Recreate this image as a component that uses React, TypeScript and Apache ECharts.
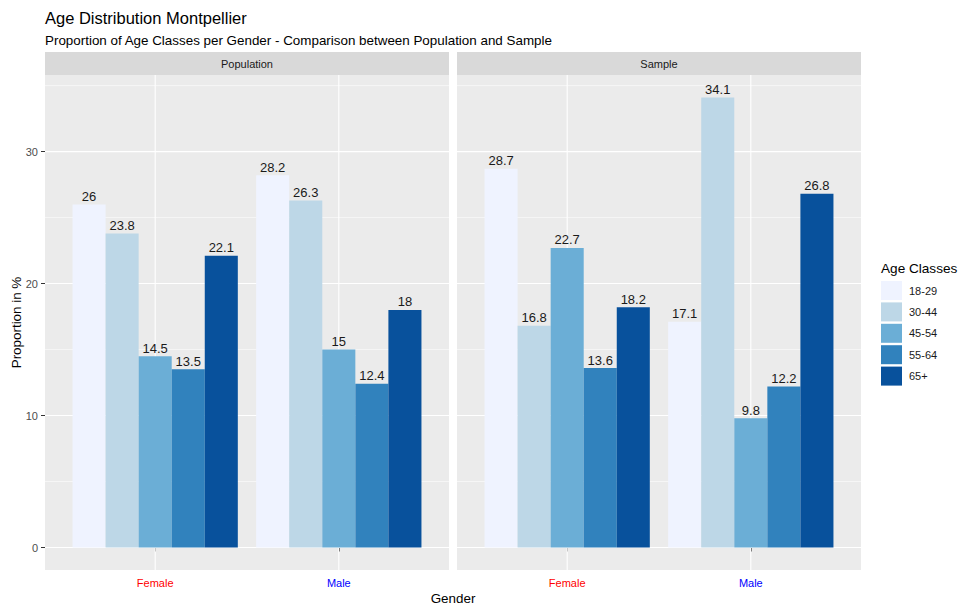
import React, { useEffect, useRef } from "react";
import * as echarts from "echarts";

const panels = ["Population", "Sample"];
const genders = ["Female", "Male"];
const genderColors = ["#FF0000", "#0000FF"];
const ageClasses = ["18-29", "30-44", "45-54", "55-64", "65+"];
const classColors = ["#EFF3FF", "#BDD7E7", "#6BAED6", "#3182BD", "#08519C"];

// values per age class: [Female, Male]
const populationFemale = [26, 23.8, 14.5, 13.5, 22.1];
const populationMale = [28.2, 26.3, 15, 12.4, 18];
const sampleFemale = [28.7, 16.8, 22.7, 13.6, 18.2];
const sampleMale = [17.1, 34.1, 9.8, 12.2, 26.8];

const yTicks = [0, 10, 20, 30];
const yMinor = [5, 15, 25, 35];
const xTicks = [1, 2];

const FONT = '"Liberation Sans", Arial, sans-serif';

const panelData = [
  [populationFemale, populationMale],
  [sampleFemale, sampleMale],
];

export default function App() {
  const ref = useRef<HTMLDivElement>(null);
  useEffect(() => {
    if (!ref.current) return;
    const chart = echarts.init(ref.current, null, { renderer: "svg" });

    const gridLefts = [45, 457];
    const grids = gridLefts.map((l) => ({
      left: l,
      top: 75,
      width: 404,
      height: 495,
      show: true,
      backgroundColor: "#EBEBEB",
      borderWidth: 0,
      containLabel: false,
    }));

    const xAxes = panels.map((_, p) => ({
      type: "value",
      gridIndex: p,
      min: 0.4,
      max: 2.6,
      splitLine: { show: false },
      axisLine: { show: false },
      axisTick: { show: true, customValues: xTicks, length: 4, lineStyle: { color: "#333333", width: 1 } },
      axisLabel: {
        customValues: xTicks,
        margin: 7,
        fontSize: 11,
        fontFamily: FONT,
        formatter: (v: number) => {
          const i = Math.round(v) - 1;
          return i === 0 ? "{f|" + genders[0] + "}" : "{m|" + genders[1] + "}";
        },
        rich: {
          f: { color: genderColors[0], fontSize: 11, fontFamily: FONT },
          m: { color: genderColors[1], fontSize: 11, fontFamily: FONT },
        },
      },
    }));

    const yAxes = panels.map((_, p) => ({
      type: "value",
      gridIndex: p,
      min: -1.705,
      max: 35.805,
      splitLine: { show: false },
      axisLine: { show: false },
      axisTick: { show: p === 0, customValues: yTicks, length: 4, lineStyle: { color: "#333333", width: 1 } },
      axisLabel: {
        show: p === 0,
        customValues: yTicks,
        margin: 7,
        fontSize: 11,
        color: "#4D4D4D",
        fontFamily: FONT,
        formatter: (v: number) => "{g|" + v + "}",
        rich: { g: { color: "#4D4D4D", fontSize: 11, fontFamily: FONT } },
      },
    }));

    const series: any[] = [];
    panels.forEach((_, p) => {
      const gridData: number[][] = [];
      yTicks.forEach((v) => gridData.push([1, v, 1.1]));
      yMinor.forEach((v) => gridData.push([1, v, 0.55]));
      xTicks.forEach((x) => gridData.push([x, 0, 2]));
      series.push({
        type: "custom",
        name: "grid" + p,
        xAxisIndex: p,
        yAxisIndex: p,
        z: 1,
        silent: true,
        clip: false,
        data: gridData,
        renderItem: (params: any, api: any) => {
          const cs = params.coordSys;
          const kind = api.value(2);
          if (kind === 2) {
            const px = api.coord([api.value(0), 0])[0];
            return {
              type: "line",
              shape: { x1: px, y1: cs.y, x2: px, y2: cs.y + cs.height },
              style: { stroke: "#FFFFFF", lineWidth: 1.1 },
            };
          }
          const py = api.coord([1, api.value(1)])[1];
          return {
            type: "line",
            shape: { x1: cs.x, y1: py, x2: cs.x + cs.width, y2: py },
            style: { stroke: "#FFFFFF", lineWidth: kind },
          };
        },
      });
      ageClasses.forEach((name, k) => {
        const color = classColors[k];
        series.push({
          type: "custom",
          name,
          xAxisIndex: p,
          yAxisIndex: p,
          z: 2,
          itemStyle: { color },
          data: [
            [1, panelData[p][0][k]],
            [2, panelData[p][1][k]],
          ],
          renderItem: (params: any, api: any) => {
            const x = api.value(0);
            const v = api.value(1);
            const c = x + (k - 2) * 0.18;
            const tl = api.coord([c - 0.09, v]);
            const br = api.coord([c + 0.09, 0]);
            return {
              type: "group",
              children: [
                {
                  type: "rect",
                  shape: { x: tl[0], y: tl[1], width: br[0] - tl[0], height: br[1] - tl[1] },
                  style: { fill: color },
                },
                {
                  type: "text",
                  x: (tl[0] + br[0]) / 2,
                  y: tl[1] - 1.5,
                  style: {
                    text: String(v),
                    fill: "#1A1A1A",
                    font: "13px " + FONT,
                    align: "center",
                    verticalAlign: "bottom",
                  },
                },
              ],
            };
          },
        });
      });
    });

    const graphic: any[] = [
      {
        type: "text",
        x: 45,
        y: 18,
        style: { text: "Age Distribution Montpellier", fill: "#000000", font: "16.5px " + FONT, verticalAlign: "middle" },
      },
      {
        type: "text",
        x: 45,
        y: 40,
        style: {
          text: "Proportion of Age Classes per Gender - Comparison between Population and Sample",
          fill: "#000000",
          font: "13.4px " + FONT,
          verticalAlign: "middle",
        },
      },
      {
        type: "text",
        x: 16,
        y: 322.5,
        rotation: Math.PI / 2,
        style: { text: "Proportion in %", fill: "#000000", font: "13.4px " + FONT, align: "center", verticalAlign: "middle" },
      },
      {
        type: "text",
        x: 453,
        y: 598,
        style: { text: "Gender", fill: "#000000", font: "13.4px " + FONT, align: "center", verticalAlign: "middle" },
      },
      {
        type: "text",
        x: 881,
        y: 268,
        style: { text: "Age Classes", fill: "#000000", font: "13.6px " + FONT, align: "left", verticalAlign: "middle" },
      },
    ];
    panels.forEach((name, p) => {
      graphic.push({
        type: "rect",
        shape: { x: gridLefts[p], y: 52, width: 404, height: 23 },
        style: { fill: "#D9D9D9" },
      });
      graphic.push({
        type: "text",
        x: gridLefts[p] + 202,
        y: 64,
        style: { text: name, fill: "#1A1A1A", font: "11px " + FONT, align: "center", verticalAlign: "middle" },
      });
    });

    chart.setOption({
      animation: false,
      backgroundColor: "#FFFFFF",
      grid: grids,
      xAxis: xAxes,
      yAxis: yAxes,
      legend: {
        orient: "vertical",
        left: 876,
        top: 276,
        itemWidth: 21,
        itemHeight: 19,
        itemGap: 2.4,
        icon: "rect",
        selectedMode: false,
        data: ageClasses,
        textStyle: { fontSize: 11, color: "#1A1A1A", fontFamily: FONT, padding: [0, 0, 0, 2] },
      },
      graphic,
      series,
    });
    return () => chart.dispose();
  }, []);
  return <div ref={ref} style={{ width: 959, height: 608, position: "absolute", left: 0, top: 0 }} />;
}
